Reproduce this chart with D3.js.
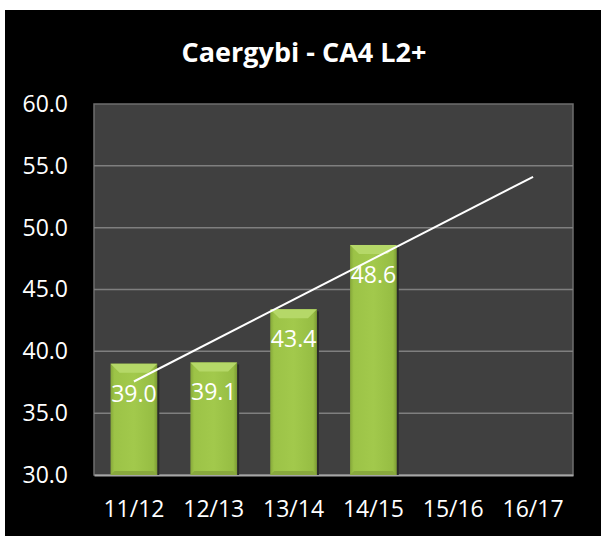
<!DOCTYPE html>
<html>
<head>
<meta charset="utf-8">
<script src="https://cdn.jsdelivr.net/npm/d3@7"></script>
<style>
  body { margin: 0; background: #ffffff; }
  text { font-family: "Open Sans", sans-serif; fill: #ffffff; }
</style>
</head>
<body>
<script>
// Datos del grafico
const periodos = ["11/12", "12/13", "13/14", "14/15", "15/16", "16/17"];
const valores = [39.0, 39.1, 43.4, 48.6];
const ticksY = [30, 35, 40, 45, 50, 55, 60];
const titulo = "Caergybi - CA4 L2+";

const W = 601, H = 536;
const margin = {top: 104, right: 28, bottom: 61, left: 94};
const width = W - margin.left - margin.right;
const height = H - margin.top - margin.bottom;

const svg = d3.select("body").append("svg")
  .attr("width", W)
  .attr("height", H);

// Fondo negro
svg.append("rect")
  .attr("x", 5).attr("y", 10)
  .attr("width", W - 5).attr("height", H - 10)
  .attr("fill", "#000000");

// Gradientes de las barras
const defs = svg.append("defs");
const grad = defs.append("linearGradient").attr("id", "barra").attr("x1", 0).attr("x2", 1).attr("y1", 0).attr("y2", 0);
grad.append("stop").attr("offset", "0%").attr("stop-color", "#86a83a");
grad.append("stop").attr("offset", "8%").attr("stop-color", "#9cc347");
grad.append("stop").attr("offset", "50%").attr("stop-color", "#a2c94c");
grad.append("stop").attr("offset", "92%").attr("stop-color", "#96bd43");
grad.append("stop").attr("offset", "100%").attr("stop-color", "#7b9a33");

const g = svg.append("g")
  .attr("transform", `translate(${margin.left},${margin.top})`);

// Escalas
const x = d3.scaleBand()
  .domain(periodos)
  .range([0, width]);

const y = d3.scaleLinear()
  .domain([30, 60])
  .range([height, 0]);

// Area del grafico
g.append("rect")
  .attr("width", width).attr("height", height)
  .attr("fill", "#404040")
  .attr("stroke", "#6e6e6e")
  .attr("stroke-width", 1.5);

// Lineas de cuadricula
g.append("g")
  .selectAll("line")
  .data(ticksY.slice(1, -1))
  .join("line")
  .attr("x1", 0).attr("x2", width)
  .attr("y1", d => y(d)).attr("y2", d => y(d))
  .attr("stroke", "#7f7f7f")
  .attr("stroke-width", 1.5);

// Eje Y
const ejeY = g.append("g")
  .call(d3.axisLeft(y).tickValues(ticksY).tickFormat(d3.format(".1f")).tickSize(0).tickPadding(26));
ejeY.select(".domain").remove();
ejeY.selectAll("text")
  .style("font-size", "23px")
  .attr("fill", "#ffffff");

// Eje X
const ejeX = g.append("g")
  .attr("transform", `translate(0,${height})`)
  .call(d3.axisBottom(x).tickSize(0).tickPadding(26));
ejeX.select(".domain").attr("stroke", "#a6a6a6").attr("stroke-width", 2);
ejeX.selectAll("text")
  .style("font-size", "23px")
  .attr("fill", "#ffffff");

// Barras
const anchoBarra = x.bandwidth() * 0.585;
const datos = valores.map((v, i) => ({periodo: periodos[i], valor: v}));

const barras = g.append("g")
  .selectAll("g")
  .data(datos)
  .join("g")
  .attr("transform", d => `translate(${x(d.periodo) + (x.bandwidth() - anchoBarra) / 2},0)`);

// sombra
barras.append("rect")
  .attr("x", 2).attr("y", d => y(d.valor) + 2)
  .attr("width", anchoBarra).attr("height", d => height - y(d.valor) - 2)
  .attr("fill", "#2a2a2a");

barras.append("rect")
  .attr("x", 0).attr("y", d => y(d.valor))
  .attr("width", anchoBarra).attr("height", d => height - y(d.valor))
  .attr("fill", "url(#barra)");

// bisel superior
const bisel = 9;
barras.append("path")
  .attr("d", d => {
    const t = y(d.valor);
    return `M0,${t}L${anchoBarra},${t}L${anchoBarra - bisel},${t + bisel}L${bisel},${t + bisel}Z`;
  })
  .attr("fill", "#b5d868");

// bisel inferior
barras.append("path")
  .attr("d", () => `M0,${height}L${anchoBarra},${height}L${anchoBarra - 4},${height - 4}L4,${height - 4}Z`)
  .attr("fill", "#88a83d");

// Etiquetas de valores
barras.append("text")
  .attr("x", anchoBarra / 2)
  .attr("y", d => y(d.valor) + 38)
  .attr("text-anchor", "middle")
  .style("font-size", "23px")
  .text(d => d3.format(".1f")(d.valor));

// Linea de tendencia (regresion lineal)
const xs = valores.map((v, i) => i + 1);
const mx = d3.mean(xs), my = d3.mean(valores);
const pendiente = d3.sum(xs, (xi, i) => (xi - mx) * (valores[i] - my)) / d3.sum(xs, xi => (xi - mx) ** 2);
const corte = my - pendiente * mx;
const tendencia = [1, periodos.length].map(k => ({periodo: periodos[k - 1], valor: corte + pendiente * k}));

g.append("path")
  .datum(tendencia)
  .attr("fill", "none")
  .attr("stroke", "#ffffff")
  .attr("stroke-width", 2)
  .attr("d", d3.line()
    .x(d => x(d.periodo) + x.bandwidth() / 2)
    .y(d => y(d.valor)));

// Titulo
svg.append("text")
  .attr("x", 304)
  .attr("y", 62)
  .attr("text-anchor", "middle")
  .style("font-size", "27px")
  .style("font-weight", "bold")
  .text(titulo);
</script>
</body>
</html>
